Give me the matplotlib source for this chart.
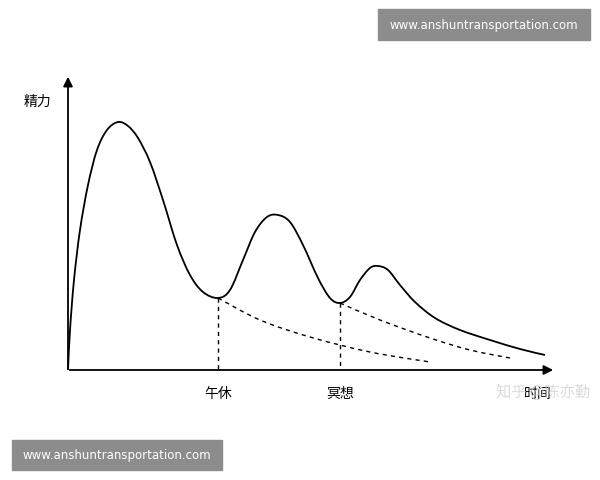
import matplotlib
matplotlib.use("Agg")
import matplotlib.pyplot as plt
import numpy as np
from matplotlib.path import Path
from matplotlib.patches import PathPatch
plt.rcParams['font.family'] = ['Noto Sans CJK SC', 'DejaVu Sans']

curve_x = [68,70,74,80,88,97,107,118,128,138,150,163,177,190,203,218,230,243,255,267,278,290,303,318,330,340,350,360,370,378,388,400,415,435,460,490,520,545]
curve_y = [370,330,280,230,185,150,130,122,126,138,162,200,245,275,292,298,290,260,232,217,215,222,245,278,298,303,297,280,268,266,270,285,302,318,330,340,349,355]
dash1_x = [218,260,310,370,430]
dash1_y = [298,320,337,352,362]
dash2_x = [340,380,430,470,510]
dash2_y = [303,320,338,350,358]
labels = ["午休", "冥想"]
label_x = [218, 340]

def smooth_path(xs, ys):
    P = np.column_stack([xs, ys]).astype(float)
    P = np.vstack([P[0], P, P[-1]])
    verts = [P[1]]; codes = [Path.MOVETO]
    for i in range(1, len(P) - 2):
        p0, p1, p2, p3 = P[i-1], P[i], P[i+1], P[i+2]
        verts += [p1 + (p2 - p0) / 6, p2 - (p3 - p1) / 6, p2]
        codes += [Path.CURVE4] * 3
    return Path(verts, codes)

fig = plt.figure(figsize=(6, 4.8), dpi=100)
ax = fig.add_axes([0, 0, 1, 1])
ax.set_xlim(0, 600); ax.set_ylim(480, 0); ax.axis('off')

ax.add_patch(PathPatch(smooth_path(curve_x, curve_y), fill=False, ec='black', lw=1.3))
ax.add_patch(PathPatch(smooth_path(dash1_x, dash1_y), fill=False, ec='black', lw=1, ls=(0, (3, 3))))
ax.add_patch(PathPatch(smooth_path(dash2_x, dash2_y), fill=False, ec='black', lw=1, ls=(0, (3, 3))))
for dx, dy in zip([dash1_x[0], dash2_x[0]], [dash1_y[0], dash2_y[0]]):
    ax.plot([dx, dx], [dy, 370], color='black', lw=1, ls=(0, (3, 3)))
for lab, lx in zip(labels, label_x):
    ax.text(lx, 394, lab, ha='center', va='center', fontsize=10)

ax.annotate('', xy=(556, 370), xytext=(67, 370),
            arrowprops=dict(arrowstyle='-|>', color='black', lw=1.3, mutation_scale=14))
ax.annotate('', xy=(68, 74), xytext=(68, 371),
            arrowprops=dict(arrowstyle='-|>', color='black', lw=1.3, mutation_scale=14))
ax.text(38, 102, "精力", ha='center', va='center', fontsize=10)
ax.text(538, 394, "时间", ha='center', va='center', fontsize=10)
ax.text(543, 392, "知乎 @陈亦勤", ha='center', va='center', fontsize=11, color='#cccccc', alpha=0.7)

ax.add_patch(plt.Rectangle((378, 9), 212, 31, color='#8c8c8c'))
ax.text(484, 25, "www.anshuntransportation.com", color='white', ha='center', va='center', fontsize=8.5, family='DejaVu Sans')
ax.add_patch(plt.Rectangle((12, 440), 210, 30, color='#8c8c8c'))
ax.text(117, 455, "www.anshuntransportation.com", color='white', ha='center', va='center', fontsize=8.5, family='DejaVu Sans')

fig.savefig("out.png", dpi=100)
